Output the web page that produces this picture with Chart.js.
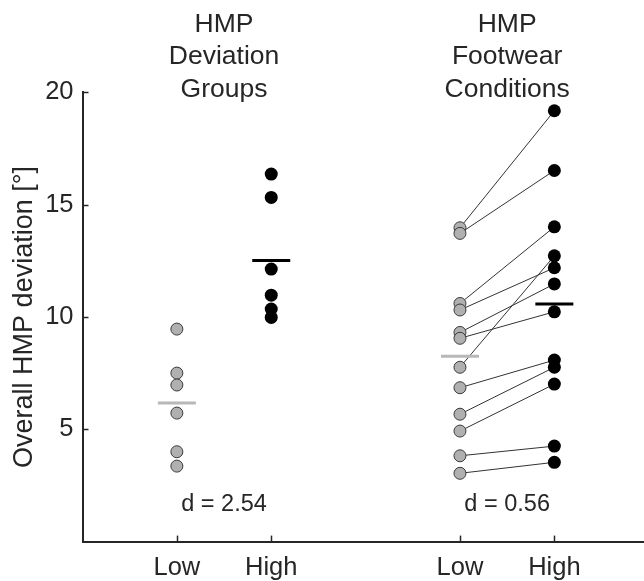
<!DOCTYPE html>
<html>
<head>
<meta charset="utf-8">
<script src="https://cdn.jsdelivr.net/npm/chart.js@4.4.0/dist/chart.umd.min.js"></script>
<style>
html, body { margin: 0; padding: 0; background: #fff; overflow: hidden; }
canvas { display: block; }
</style>
</head>
<body>
<canvas id="myChart" width="644" height="581"></canvas>
<script>
// Titles, tick labels and effect sizes
var groupTitles = [['HMP', 'Deviation', 'Groups'], ['HMP', 'Footwear', 'Conditions']];
var xTickLabels = ['Low', 'High', 'Low', 'High'];
var xTickValues = [1, 2, 4, 5];
var yTickValues = [5, 10, 15, 20];
var effectSizes = ['d = 2.54', 'd = 0.56'];

// Deviation groups (independent subjects)
var lowGroup = [9.46, 7.50, 6.97, 5.72, 4.00, 3.36];
var highGroup = [16.36, 15.32, 12.13, 10.97, 10.35, 9.98];

// Footwear conditions (paired, same subject at same index)
var lowFootwear = [13.97, 13.72, 10.60, 10.31, 9.31, 9.05, 7.76, 6.85, 5.67, 4.92, 3.82, 3.04];
var highFootwear = [19.18, 16.52, 14.01, 12.19, 11.47, 10.23, 12.72, 8.08, 7.76, 7.01, 4.25, 3.53];

var textColor = '#262626';
var grayFill = '#b0b0b0';
var fontFamily = '"Liberation Sans", Arial, Helvetica, sans-serif';

function mean(arr) {
    var s = 0;
    arr.forEach(function(v) { s += v; });
    return s / arr.length;
}

function toPoints(xValue, arr) {
    return arr.map(function(v) { return { x: xValue, y: v }; });
}

// Mean bars (drawn on top)
var datasets = [
    {
        data: [{ x: xTickValues[0], y: mean(lowGroup) }, { x: xTickValues[2], y: mean(lowFootwear) }],
        pointStyle: 'line', pointRadius: 19, pointBorderWidth: 3,
        pointBorderColor: '#b8b8b8', pointBackgroundColor: '#b8b8b8'
    },
    {
        data: [{ x: xTickValues[1], y: mean(highGroup) }, { x: xTickValues[3], y: mean(highFootwear) }],
        pointStyle: 'line', pointRadius: 19, pointBorderWidth: 3,
        pointBorderColor: '#000', pointBackgroundColor: '#000'
    },
    {
        data: toPoints(xTickValues[0], lowGroup).concat(toPoints(xTickValues[2], lowFootwear)),
        pointRadius: 6, pointBorderWidth: 1,
        pointBackgroundColor: grayFill, pointBorderColor: '#3a3a3a'
    },
    {
        data: toPoints(xTickValues[1], highGroup).concat(toPoints(xTickValues[3], highFootwear)),
        pointRadius: 6.5, pointBorderWidth: 0,
        pointBackgroundColor: '#000', pointBorderColor: '#000'
    }
];

// Lines connecting paired footwear values
lowFootwear.forEach(function(v, i) {
    datasets.push({
        data: [{ x: xTickValues[2], y: v }, { x: xTickValues[3], y: highFootwear[i] }],
        showLine: true, pointRadius: 0,
        borderColor: '#333', borderWidth: 1
    });
});

// Group titles, effect sizes and inward tick marks
var annotate = {
    id: 'annotate',
    afterDraw: function(chart) {
        var ctx = chart.ctx;
        var xs = chart.scales.x;
        var ys = chart.scales.y;
        var area = chart.chartArea;
        ctx.save();

        ctx.strokeStyle = textColor;
        ctx.lineWidth = 1.5;
        xTickValues.forEach(function(v) {
            var px = Math.round(xs.getPixelForValue(v)) + 0.5;
            ctx.beginPath();
            ctx.moveTo(px, area.bottom);
            ctx.lineTo(px, area.bottom - 6);
            ctx.stroke();
        });
        yTickValues.forEach(function(v) {
            var py = Math.round(ys.getPixelForValue(v)) + 0.5;
            ctx.beginPath();
            ctx.moveTo(area.left, py);
            ctx.lineTo(area.left + 6, py);
            ctx.stroke();
        });

        ctx.fillStyle = textColor;
        ctx.textAlign = 'center';
        ctx.textBaseline = 'middle';
        groupTitles.forEach(function(lines, g) {
            var cx = xs.getPixelForValue((xTickValues[2 * g] + xTickValues[2 * g + 1]) / 2);
            ctx.font = '26.5px ' + fontFamily;
            lines.forEach(function(t, i) {
                ctx.fillText(t, cx, area.top - 68 + i * 32.5);
            });
            ctx.font = '23.5px ' + fontFamily;
            ctx.fillText(effectSizes[g], cx, ys.getPixelForValue(1.63));
        });
        ctx.restore();
    }
};

var ctx = document.getElementById('myChart').getContext('2d');
var myChart = new Chart(ctx, {
    type: 'scatter',
    data: { datasets: datasets },
    plugins: [annotate],
    options: {
        responsive: false,
        animation: false,
        layout: {
            autoPadding: false,
            padding: { top: 92.3, left: 0, right: 0, bottom: 0 }
        },
        plugins: {
            legend: { display: false },
            tooltip: { enabled: false }
        },
        scales: {
            x: {
                type: 'linear',
                min: 0,
                max: 5.95,
                afterFit: function(s) {
                    s.height = 39.4;
                    s.paddingLeft = 0;
                    s.paddingRight = 0;
                },
                afterBuildTicks: function(s) {
                    s.ticks = xTickValues.map(function(v) { return { value: v }; });
                },
                grid: { display: false, drawTicks: false },
                border: { display: true, color: textColor, width: 2 },
                ticks: {
                    padding: 11,
                    color: textColor,
                    font: { family: fontFamily, size: 25.5 },
                    callback: function(v) { return xTickLabels[xTickValues.indexOf(v)]; }
                }
            },
            y: {
                min: 0,
                max: 20,
                afterFit: function(s) { s.width = 82.5; },
                afterBuildTicks: function(s) {
                    s.ticks = yTickValues.map(function(v) { return { value: v }; });
                },
                grid: { display: false, drawTicks: false },
                border: { display: true, color: textColor, width: 2 },
                ticks: {
                    padding: 9,
                    color: textColor,
                    font: { family: fontFamily, size: 25.5 }
                },
                title: {
                    display: true,
                    text: 'Overall HMP deviation [°]',
                    color: textColor,
                    font: { family: fontFamily, size: 27 },
                    padding: { top: 8, bottom: 0 }
                }
            }
        }
    }
});
</script>
</body>
</html>
